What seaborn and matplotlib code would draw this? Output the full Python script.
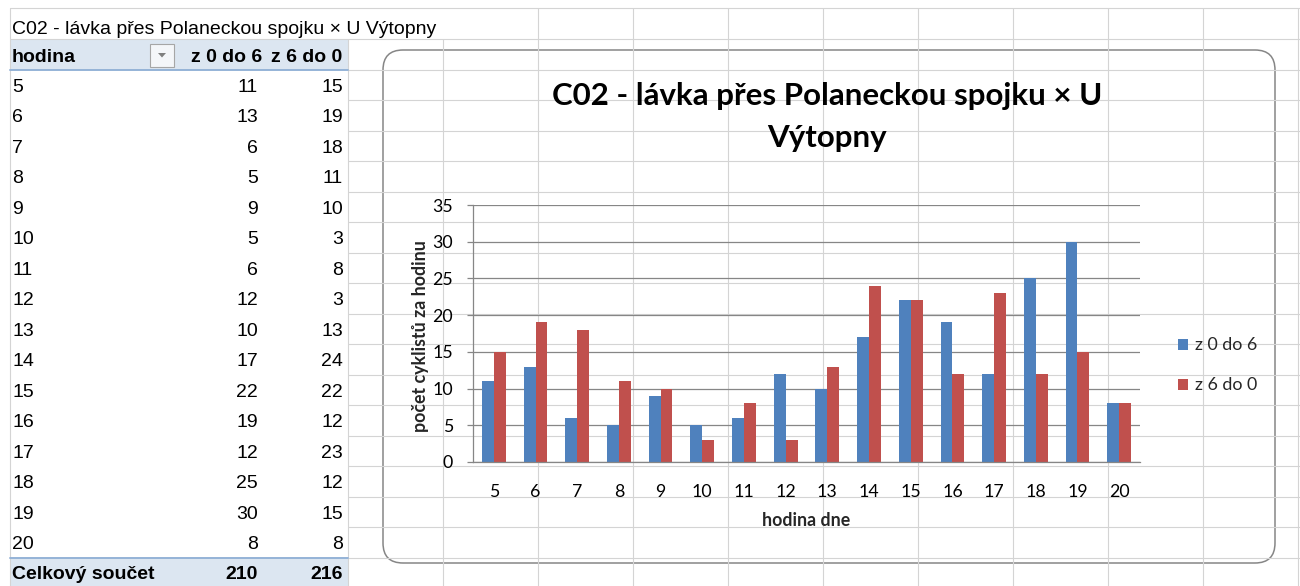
import matplotlib
matplotlib.use("Agg")
import matplotlib.pyplot as plt
from matplotlib.patches import FancyBboxPatch, Rectangle, Polygon
import seaborn as sns
import pandas as pd
import numpy as np

# ---------------- data ----------------
sheet_title = "C02 - lávka přes Polaneckou spojku × U Výtopny"
chart_title = ["C02 - lávka přes Polaneckou spojku × U", "Výtopny"]
hours = [5, 6, 7, 8, 9, 10, 11, 12, 13, 14, 15, 16, 17, 18, 19, 20]
z0do6 = [11, 13, 6, 5, 9, 5, 6, 12, 10, 17, 22, 19, 12, 25, 30, 8]
z6do0 = [15, 19, 18, 11, 10, 3, 8, 3, 13, 24, 22, 12, 23, 12, 15, 8]
series_names = ["z 0 do 6", "z 6 do 0"]
col_header = "hodina"
total_label = "Celkový součet"
x_label = "hodina dne"
y_label = "počet cyklistů za hodinu"
y_ticks = [0, 5, 10, 15, 20, 25, 30, 35]

colors = ["#4F81BD", "#C0504D"]

sns.set_theme(style="white")
plt.rcParams['font.family'] = ['Lato', 'DejaVu Sans']

fig = plt.figure(figsize=(13, 5.86), dpi=100)
fig.patch.set_facecolor("white")

# ---------------- spreadsheet background ----------------
bg = fig.add_axes([0, 0, 1, 1], zorder=0)
bg.set_xlim(0, 1300)
bg.set_ylim(586, 0)
bg.axis('off')

grid_c = "#D4D4D4"
glw = 0.8
row_top = 70
row_h = 30.47
col_xs = [538, 633, 728, 823, 918, 1013, 1108, 1203, 1298]

# horizontal grid lines
bg.plot([10, 1300], [8, 8], color=grid_c, lw=glw)
bg.plot([10, 1300], [39, 39], color=grid_c, lw=glw)
bg.plot([348, 1300], [70, 70], color=grid_c, lw=glw)
for k in range(1, 17):
    y = row_top + row_h * k
    bg.plot([348, 1300], [y, y], color=grid_c, lw=glw)
# vertical grid lines
bg.plot([10, 10], [8, 586], color=grid_c, lw=glw)
bg.plot([348, 348], [39, 586], color=grid_c, lw=glw)
bg.plot([443, 443], [39, 586], color=grid_c, lw=glw)
for x in col_xs:
    bg.plot([x, x], [8, 586], color=grid_c, lw=glw)

# pivot table header / total fill
hdr_fill = "#DCE6F1"
hdr_line = "#95B3D7"
bg.add_patch(Rectangle((10, 40), 338, 30, fc=hdr_fill, ec='none'))
bg.plot([10, 348], [70, 70], color=hdr_line, lw=1.4)
tot_y = row_top + row_h * 16
bg.add_patch(Rectangle((10, tot_y), 338, 586 - tot_y, fc=hdr_fill, ec='none'))
bg.plot([10, 348], [tot_y, tot_y], color=hdr_line, lw=1.4)

# filter button
bg.add_patch(Rectangle((150, 44), 24, 23, fc="#F4F6F9", ec="#A6A6A6", lw=0.8))
bg.add_patch(Polygon([(158, 53), (166, 53), (162, 57.5)], closed=True, fc="#7F7F7F", ec='none'))

tfont = dict(family=['Liberation Sans', 'DejaVu Sans'], fontsize=14, color='black')
bg.text(12, 30, sheet_title, ha='left', va='center', **tfont)
bg.text(12, 57, col_header, ha='left', va='center', fontweight='bold', **tfont)
bg.text(262, 57, series_names[0], ha='right', va='center', fontweight='bold', **tfont)
bg.text(342, 57, series_names[1], ha='right', va='center', fontweight='bold', **tfont)
for i, h in enumerate(hours):
    y = row_top + row_h * i + 17.5
    bg.text(12, y, str(h), ha='left', va='center', **tfont)
    bg.text(258, y, str(z0do6[i]), ha='right', va='center', **tfont)
    bg.text(343, y, str(z6do0[i]), ha='right', va='center', **tfont)
bg.text(12, tot_y + 17, total_label, ha='left', va='center', fontweight='bold', **tfont)
bg.text(258, tot_y + 17, str(sum(z0do6)), ha='right', va='center', fontweight='bold', **tfont)
bg.text(343, tot_y + 17, str(sum(z6do0)), ha='right', va='center', fontweight='bold', **tfont)

# chart box
r = 20
bx0, by0, bx1, by1 = 383, 50, 1275, 563
bg.add_patch(FancyBboxPatch((bx0 + r, by0 + r), (bx1 - bx0) - 2 * r, (by1 - by0) - 2 * r,
                            boxstyle=f"round,pad={r}", fc='white', ec='#868686', lw=1.1))

# chart title
cfont = dict(family=['Lato', 'DejaVu Sans'], color='black')
bg.text(827, 96, chart_title[0], ha='center', va='center', fontsize=22.5, fontweight='bold', **cfont)
bg.text(827, 138, chart_title[1], ha='center', va='center', fontsize=22.5, fontweight='bold', **cfont)

# ---------------- chart ----------------
ax_l, ax_r, ax_t, ax_b = 473, 1140, 205, 462
ax = fig.add_axes([ax_l / 1300, (586 - ax_b) / 586, (ax_r - ax_l) / 1300, (ax_b - ax_t) / 586], zorder=2)
ax.set_facecolor('none')

df = pd.DataFrame({
    'hodina': hours * 2,
    'pocet': z0do6 + z6do0,
    'smer': [series_names[0]] * len(hours) + [series_names[1]] * len(hours),
})
sns.barplot(data=df, x='hodina', y='pocet', hue='smer', hue_order=series_names,
            palette=colors, width=0.571, gap=0, saturation=1, linewidth=0,
            errorbar=None, ax=ax)

axc = "#868686"
fs = 12.8
ax.set_xlim(-0.5, len(hours) - 0.5)
ax.set_ylim(0, 35)
ax.set_yticks(y_ticks)
ax.yaxis.grid(True, color=axc, lw=0.9)
ax.xaxis.grid(False)
ax.set_axisbelow(True)
for s in ['top', 'right']:
    ax.spines[s].set_visible(False)
for s in ['left', 'bottom']:
    ax.spines[s].set_color(axc)
    ax.spines[s].set_linewidth(0.9)

ax.set_xticks(np.arange(-0.5, len(hours), 1.0), minor=True)
ax.tick_params(axis='x', which='major', length=0, pad=16, labelsize=fs, colors='black')
ax.tick_params(axis='x', which='minor', length=5, width=0.9, color=axc, direction='out')
ax.tick_params(axis='y', which='major', length=4.3, width=0.9, color=axc, direction='out',
               pad=10, labelsize=fs, labelcolor='black')
ax.tick_params(axis='y', left=True)

ax.set_xlabel(x_label, fontsize=fs, fontweight='bold')
ax.xaxis.set_label_coords(0.5, (ax_b - 521) / (ax_b - ax_t))
ax.xaxis.label.set_verticalalignment('center')
ax.set_ylabel(y_label, fontsize=fs, fontweight='bold')
ax.yaxis.set_label_coords((421 - ax_l) / (ax_r - ax_l), 0.49)
ax.yaxis.label.set_verticalalignment('center')

handles, labels = ax.get_legend_handles_labels()
ax.legend(handles, labels, loc='center left', bbox_to_anchor=(1178 / 1300, (586 - 365.5) / 586),
          bbox_transform=fig.transFigure, frameon=False, fontsize=fs,
          handlelength=0.55, handleheight=0.55, handletextpad=0.4, labelspacing=1.35,
          borderpad=0, borderaxespad=0)

fig.savefig("out.png", dpi=100, facecolor='white')
